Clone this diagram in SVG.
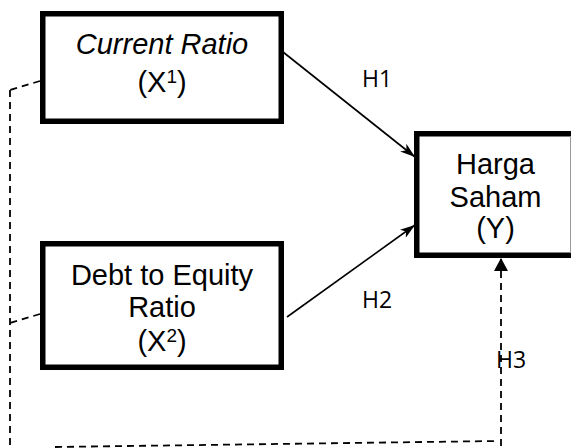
<svg xmlns="http://www.w3.org/2000/svg" width="571" height="448" viewBox="0 0 571 448">
<style>
.box{fill:#fff;stroke:#000;stroke-width:5.5}
.t{font-family:"Liberation Sans",Arial,sans-serif;font-size:29px;fill:#000;text-anchor:middle}
.h{font-family:"Open Sans","Noto Sans",sans-serif;font-size:23px;fill:#000}
.solid{fill:none;stroke:#000;stroke-width:1.6}
.dash{fill:none;stroke:#000;stroke-width:1.8;stroke-dasharray:7 5}
</style>
<defs>
<marker id="stealth" markerUnits="userSpaceOnUse" viewBox="0 0 15 10" refX="15" refY="5" markerWidth="15" markerHeight="10" orient="auto">
<path d="M0,0 L15,5 L0,10 L4,5 z" fill="#000"/>
</marker>
<marker id="tri" markerUnits="userSpaceOnUse" viewBox="0 0 13 14" refX="13" refY="7" markerWidth="13" markerHeight="14" orient="auto">
<path d="M0,0 L13,7 L0,14 z" fill="#000"/>
</marker>
</defs>
<g id="connectors">
<line class="solid" x1="283" y1="52" x2="415" y2="157" marker-end="url(#stealth)"/>
<line class="solid" x1="287" y1="317" x2="415" y2="225" marker-end="url(#stealth)"/>
<line class="dash" x1="40" y1="81" x2="10" y2="90"/>
<line class="dash" x1="40" y1="314" x2="10" y2="323"/>
<line class="dash" x1="10" y1="90" x2="10" y2="446"/>
<line class="dash" x1="55" y1="447" x2="497" y2="441"/>
<line class="dash" x1="501" y1="446" x2="501" y2="258" marker-end="url(#tri)"/>
<text class="h" x="362" y="87">H1</text>
<text class="h" x="362" y="308">H2</text>
<text class="h" x="496" y="368">H3</text>
</g>
<g id="node-x1">
<rect class="box" x="42.75" y="13.75" width="238.5" height="107.5"/>
<text class="t" x="162" y="54" font-style="italic">Current Ratio</text>
<text class="t" x="162" y="92">(X<tspan font-size="19" dy="-9">1</tspan><tspan dy="9">)</tspan></text>
</g>
<g id="node-x2">
<rect class="box" x="42.75" y="243.75" width="238.5" height="123.5"/>
<text class="t" x="162" y="285">Debt to Equity</text>
<text class="t" x="162" y="317">Ratio</text>
<text class="t" x="162" y="351">(X<tspan font-size="19" dy="-9">2</tspan><tspan dy="9">)</tspan></text>
</g>
<g id="node-y">
<rect class="box" x="416.75" y="133.75" width="162" height="121.5"/>
<line x1="570.5" y1="136" x2="570.5" y2="253" stroke="#999" stroke-width="1"/>
<text class="t" x="495.5" y="174">Harga</text>
<text class="t" x="495.5" y="207">Saham</text>
<text class="t" x="495.5" y="238">(Y)</text>
</g>
</svg>
